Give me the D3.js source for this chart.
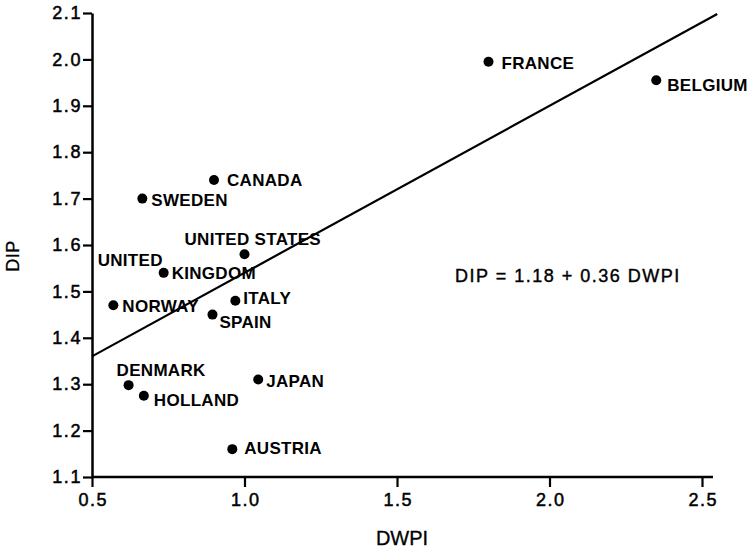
<!DOCTYPE html>
<html>
<head>
<meta charset="utf-8">
<script src="https://cdn.jsdelivr.net/npm/d3@7"></script>
<style>
  html, body { margin: 0; padding: 0; background: #fff; }
  svg { display: block; font-family: "Liberation Sans", Arial, sans-serif; }
</style>
</head>
<body>
<svg id="chart" width="751" height="552"></svg>
<script>
// Countries with their DWPI and DIP values
const countries = ["FRANCE", "BELGIUM", "CANADA", "SWEDEN", "UNITED STATES", "UNITED KINGDOM",
                   "NORWAY", "ITALY", "SPAIN", "DENMARK", "HOLLAND", "JAPAN", "AUSTRIA"];
const dwpi = [1.80, 2.35, 0.90, 0.665, 1.00, 0.735, 0.57, 0.97, 0.895, 0.62, 0.67, 1.045, 0.96];
const dip  = [1.995, 1.955, 1.74, 1.70, 1.58, 1.54, 1.47, 1.48, 1.45, 1.298, 1.275, 1.31, 1.16];

// Axis ticks
const xTicks = [0.5, 1.0, 1.5, 2.0, 2.5];
const yTicks = [1.1, 1.2, 1.3, 1.4, 1.5, 1.6, 1.7, 1.8, 1.9, 2.0, 2.1];

// Fitted regression line
const fitIntercept = 1.18;
const fitSlope = 0.36;
const fitRange = [0.5, 2.55];
const equationText = "DIP = 1.18 + 0.36 DWPI";

const xTitle = "DWPI";
const yTitle = "DIP";

// Label placement relative to each point (pixels): lines of text with offsets
const labelLayout = {
  "FRANCE":         [{ t: "FRANCE", dx: 13, dy: 7 }],
  "BELGIUM":        [{ t: "BELGIUM", dx: 11, dy: 11 }],
  "CANADA":         [{ t: "CANADA", dx: 13, dy: 6 }],
  "SWEDEN":         [{ t: "SWEDEN", dx: 9, dy: 7 }],
  "UNITED STATES":  [{ t: "UNITED STATES", dx: -60, dy: -9 }],
  "UNITED KINGDOM": [{ t: "UNITED", dx: -66, dy: -7 }, { t: "KINGDOM", dx: 8, dy: 6 }],
  "NORWAY":         [{ t: "NORWAY", dx: 9, dy: 7 }],
  "ITALY":          [{ t: "ITALY", dx: 8, dy: 3 }],
  "SPAIN":          [{ t: "SPAIN", dx: 7, dy: 13 }],
  "DENMARK":        [{ t: "DENMARK", dx: -12, dy: -9 }],
  "HOLLAND":        [{ t: "HOLLAND", dx: 10, dy: 10 }],
  "JAPAN":          [{ t: "JAPAN", dx: 8, dy: 7 }],
  "AUSTRIA":        [{ t: "AUSTRIA", dx: 12, dy: 5 }]
};

const points = countries.map((c, i) => ({ name: c, x: dwpi[i], y: dip[i] }));

const svg = d3.select("#chart");

const x = d3.scaleLinear().domain([0.5, 2.5]).range([92, 702]);
const y = d3.scaleLinear().domain([1.1, 2.1]).range([477, 13]);
const xAxisEnd = 2.536;

const ink = "#000";

// Slightly heavier strokes on the lettering
function ink_text(sel, w) {
  sel.attr("fill", ink).attr("stroke", ink).attr("stroke-width", w).attr("paint-order", "stroke");
}

// X axis
const gx = svg.append("g")
  .attr("transform", `translate(0,${y(1.1)})`)
  .call(d3.axisBottom(x).tickValues(xTicks).tickFormat(d3.format(".1f"))
        .tickSize(10).tickSizeOuter(0).tickPadding(6));
gx.select(".domain").remove();
gx.append("line")
  .attr("x1", x(0.5)).attr("x2", x(xAxisEnd))
  .attr("stroke", ink).attr("stroke-width", 2.5);
gx.selectAll(".tick line").attr("stroke", ink).attr("stroke-width", 2.2);
gx.selectAll(".tick text")
  .call(ink_text, 0.5)
  .style("font-size", "18px")
  .style("letter-spacing", "1.5px")
  .attr("dx", "0.75px");

// Y axis
const gy = svg.append("g")
  .attr("transform", `translate(${x(0.5)},0)`)
  .call(d3.axisLeft(y).tickValues(yTicks).tickFormat(d3.format(".1f"))
        .tickSize(9).tickSizeOuter(0).tickPadding(1));
gy.select(".domain").attr("stroke", ink).attr("stroke-width", 2.5);
gy.selectAll(".tick line").attr("stroke", ink).attr("stroke-width", 2.2);
gy.selectAll(".tick text")
  .call(ink_text, 0.5)
  .style("font-size", "18px")
  .style("letter-spacing", "1.6px");

// Axis titles
svg.append("text")
  .attr("x", 402).attr("y", 545)
  .attr("text-anchor", "middle")
  .style("font-size", "20px")
  .call(ink_text, 0.3)
  .text(xTitle);

svg.append("text")
  .attr("transform", `translate(19,256) rotate(-90)`)
  .attr("text-anchor", "middle")
  .style("font-size", "18px")
  .style("letter-spacing", "0.5px")
  .call(ink_text, 0.3)
  .text(yTitle);

// Regression line
const fitLine = d3.line().x(d => x(d)).y(d => y(fitIntercept + fitSlope * d));
svg.append("path")
  .datum(fitRange)
  .attr("d", fitLine)
  .attr("fill", "none")
  .attr("stroke", ink)
  .attr("stroke-width", 2.2);

// Equation
svg.append("text")
  .attr("x", 455).attr("y", 282)
  .style("font-size", "18px")
  .style("letter-spacing", "1.5px")
  .call(ink_text, 0.4)
  .text(equationText);

// Points
svg.append("g").selectAll("circle")
  .data(points)
  .join("circle")
  .attr("cx", d => x(d.x))
  .attr("cy", d => y(d.y))
  .attr("r", 5)
  .attr("fill", ink);

// Point labels
const lg = svg.append("g")
  .style("font-size", "17px")
  .style("font-weight", "bold")
  .style("letter-spacing", "0.3px")
  .attr("fill", ink);

points.forEach(p => {
  labelLayout[p.name].forEach(l => {
    lg.append("text")
      .attr("x", x(p.x) + l.dx)
      .attr("y", y(p.y) + l.dy)
      .text(l.t);
  });
});
</script>
</body>
</html>
